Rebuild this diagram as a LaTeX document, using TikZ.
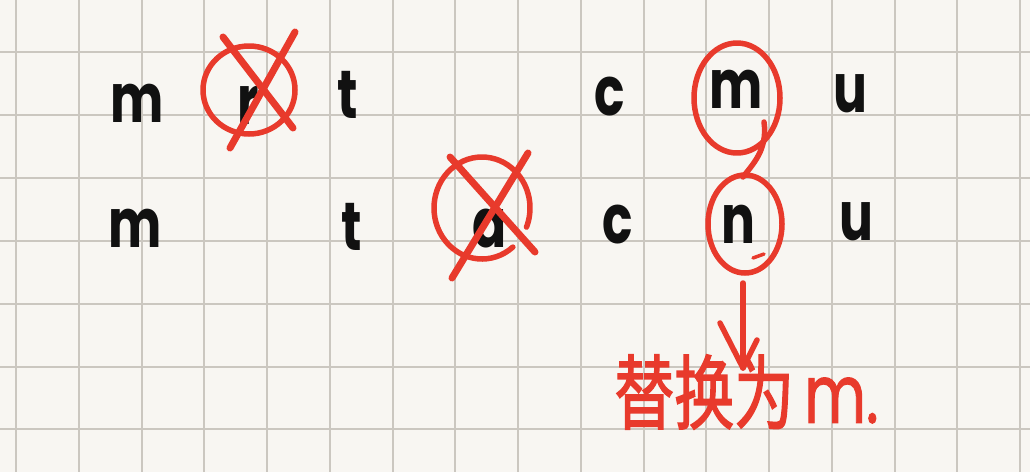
\documentclass[tikz,border=0pt]{standalone}
\usepackage{fontspec}
\newfontfamily\hand{Poppins}
\newfontfamily\cjk{Noto Sans CJK SC}[FakeBold=2]
\newfontfamily\handnote{Poppins}[FakeBold=1.5]
\definecolor{paper}{HTML}{F8F6F2}
\definecolor{gridc}{HTML}{CBC7C0}
\definecolor{pen}{HTML}{E83A2C}
\definecolor{ink}{HTML}{111111}
\newcommand{\narrow}[1]{\scalebox{0.74}[1]{#1}}
\begin{document}
\begin{tikzpicture}[x=1pt,y=-1pt,
  letter/.style={font=\hand\bfseries\fontsize{68}{68}\selectfont, text=ink, inner sep=0pt, anchor=base},
  redline/.style={draw=pen, line width=5.5pt, line cap=round, line join=round},
  crossline/.style={draw=pen, line width=7pt, line cap=round},
  gridline/.style={draw=gridc, line width=2pt}
]
\fill[paper] (0,0) rectangle (1030,472);
\useasboundingbox (0,0) rectangle (1030,472);
\foreach \i in {0,...,16} \draw[gridline] ({16+62.75*\i},0) -- ({16+62.75*\i},472);
\foreach \j in {0,...,6} \draw[gridline] (0,{52+62.9*\j}) -- (1030,{52+62.9*\j});

% row 1
\node[letter] (am) at (137,122) {\narrow{m}};
\node[letter] (ar) at (248,124) {\narrow{r}};
\node[letter] (at) at (348,118) {\narrow{t}};
\node[letter] (ac) at (610,115) {\narrow{c}};
\node[letter] (an) at (736,108) {\narrow{m}};
\node[letter] (au) at (850,112) {\narrow{u}};
% row 2
\node[letter] (bm) at (135,247) {\narrow{m}};
\node[letter] (bt) at (352,250) {\narrow{t}};
\node[letter] (ba) at (490,247) {\narrow{a}};
\node[letter] (bc) at (618,243) {\narrow{c}};
\node[letter] (bn) at (738,243) {\narrow{n}};
\node[letter] (bu) at (856,240) {\narrow{u}};

% crossed r
\draw[redline] (249,90) ellipse [x radius=46, y radius=44];
\draw[crossline] (223,37) -- (293,128);
\draw[crossline] (295,32) -- (230,148);

% crossed a
\draw[redline] ([shift={(482,208)}]50:48 and 51) arc[start angle=50, end angle=382, x radius=48, y radius=51];
\draw[crossline] (450,157) -- (535,252);
\draw[crossline] (528,153) -- (452,278);

% m and n rings
\draw[redline] (737,98) ellipse [x radius=43, y radius=55];
\draw[redline] (764,122) .. controls (768,150) and (752,165) .. (743,177);
\draw[redline] (745,224) ellipse [x radius=37, y radius=49];
\draw[redline, line width=3.5pt] (753,258) -- (764,254);

% arrow
\coordinate (astart) at (743,283);
\coordinate (atip) at (743,368);
\draw[redline] (astart) -- (atip);
\draw[redline] (720,323) -- (atip) -- (757,340);

% note
\node[anchor=west, inner sep=0pt, text=pen, font=\fontsize{60}{60}\selectfont] (note) at (614,392) {\scalebox{1}[1.35]{{\cjk 替换为}\,{\handnote m.}}};
\end{tikzpicture}
\end{document}
